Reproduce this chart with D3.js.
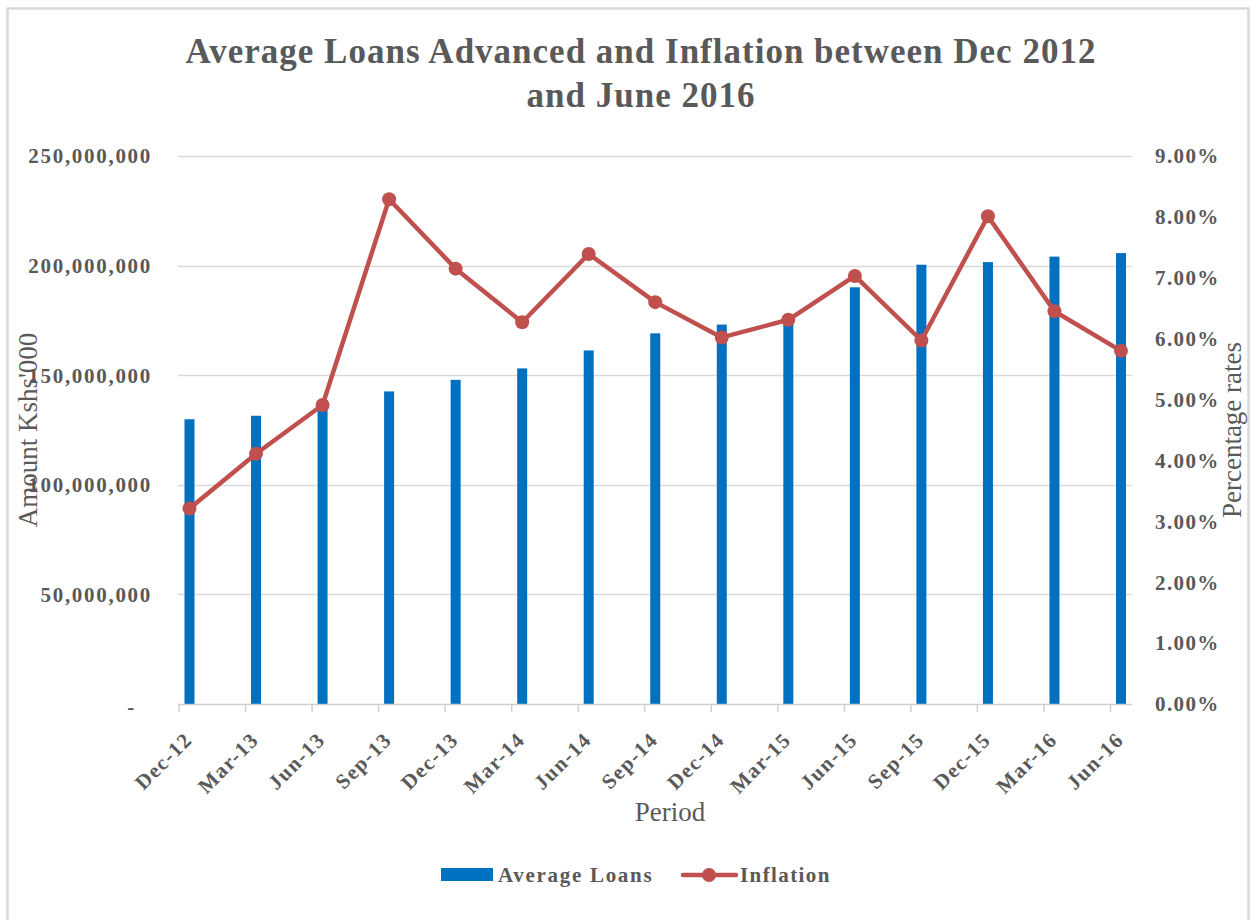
<!DOCTYPE html>
<html>
<head>
<meta charset="utf-8">
<script src="https://cdn.jsdelivr.net/npm/d3@7"></script>
<style>
  html, body { margin: 0; padding: 0; background: #fff; }
  svg { display: block; }
  text { font-family: "Liberation Serif", "Times New Roman", serif; fill: #595959; }
</style>
</head>
<body>
<svg id="chart" width="1251" height="920"></svg>
<script>
const periods = ["Dec-12","Mar-13","Jun-13","Sep-13","Dec-13","Mar-14","Jun-14","Sep-14","Dec-14","Mar-15","Jun-15","Sep-15","Dec-15","Mar-16","Jun-16"];
const averageLoans = [129900000,131500000,136500000,142600000,147900000,153100000,161300000,169100000,173100000,176000000,190100000,200400000,201600000,204100000,205700000];
const inflation = [0.0321,0.0411,0.0491,0.0829,0.0715,0.0627,0.0739,0.0660,0.0602,0.0631,0.0703,0.0597,0.0801,0.0645,0.0580];
const leftTicks = [0,50000000,100000000,150000000,200000000,250000000];
const rightTicks = [0,0.01,0.02,0.03,0.04,0.05,0.06,0.07,0.08,0.09];
const titleLines = ["Average Loans Advanced and Inflation between Dec 2012","and June 2016"];

const svg = d3.select("#chart");
const plot = {left: 178, right: 1132, top: 156, bottom: 704};

// outer border
svg.append("rect").attr("x", 7.5).attr("y", 8.5).attr("width", 1241).attr("height", 940)
  .attr("fill", "#fff").attr("stroke", "#D9D9D9").attr("stroke-width", 2.5);

const x = d3.scalePoint().domain(periods).range([189.5, 1121]);
const yL = d3.scaleLinear().domain([0, 250000000]).range([plot.bottom, plot.top]);
const yR = d3.scaleLinear().domain([0, 0.09]).range([plot.bottom, plot.top]);

// title
svg.append("g").selectAll("text").data(titleLines).join("text")
  .attr("x", 641).attr("y", (d, i) => 63 + i * 44)
  .attr("text-anchor", "middle")
  .style("font-size", "35px").style("font-weight", "bold").style("letter-spacing", "1px")
  .text(d => d);

// gridlines
svg.append("g").selectAll("line").data(leftTicks.filter(d => d > 0)).join("line")
  .attr("x1", plot.left).attr("x2", plot.right)
  .attr("y1", d => Math.round(yL(d)) + 0.5).attr("y2", d => Math.round(yL(d)) + 0.5)
  .attr("stroke", "#D9D9D9").attr("stroke-width", 1.5);

// left axis labels
const fmtL = d3.format(",");
svg.append("g").selectAll("text").data(leftTicks).join("text")
  .attr("x", d => d === 0 ? 136 : 152).attr("y", d => yL(d) + (d === 0 ? 3 : 0)).attr("dy", "0.35em")
  .attr("text-anchor", "end")
  .style("font-size", "21px").style("font-weight", "bold").style("letter-spacing", "1.7px")
  .text(d => d === 0 ? "-" : fmtL(d));

// right axis labels
const fmtR = d3.format(".2%");
svg.append("g").selectAll("text").data(rightTicks).join("text")
  .attr("x", 1155).attr("y", d => yR(d)).attr("dy", "0.35em")
  .attr("text-anchor", "start")
  .style("font-size", "21px").style("font-weight", "bold").style("letter-spacing", "1.4px")
  .text(d => fmtR(d));

// bars
svg.append("g").selectAll("rect").data(averageLoans).join("rect")
  .attr("x", (d, i) => x(periods[i]) - 5).attr("width", 10)
  .attr("y", d => yL(d)).attr("height", d => yL(0) - yL(d))
  .attr("fill", "#0070C0");

// x axis line and ticks
svg.append("line").attr("x1", plot.left).attr("x2", plot.right)
  .attr("y1", plot.bottom + 0.5).attr("y2", plot.bottom + 0.5)
  .attr("stroke", "#D0D0D0").attr("stroke-width", 1.5);
svg.append("g").selectAll("line").data(periods).join("line")
  .attr("x1", d => x(d) - 10.5).attr("x2", d => x(d) - 10.5)
  .attr("y1", plot.bottom).attr("y2", plot.bottom + 8)
  .attr("stroke", "#D0D0D0").attr("stroke-width", 1.5);

// x labels
svg.append("g").selectAll("text").data(periods).join("text")
  .attr("transform", d => `translate(${x(d) + 4},741) rotate(-45)`)
  .attr("text-anchor", "end")
  .style("font-size", "21px").style("font-weight", "bold").style("letter-spacing", "1.5px")
  .text(d => d);

// inflation line
const line = d3.line().x((d, i) => x(periods[i])).y(d => yR(d));
svg.append("path").datum(inflation).attr("d", line)
  .attr("fill", "none").attr("stroke", "#C0504D").attr("stroke-width", 4.5)
  .attr("stroke-linejoin", "round").attr("stroke-linecap", "round");
svg.append("g").selectAll("circle").data(inflation).join("circle")
  .attr("cx", (d, i) => x(periods[i])).attr("cy", d => yR(d)).attr("r", 7)
  .attr("fill", "#C0504D");

// axis titles
svg.append("text").attr("transform", "translate(37,430) rotate(-90)")
  .attr("text-anchor", "middle").style("font-size", "27px").text("Amount Kshs'000");
svg.append("text").attr("transform", "translate(1241,430) rotate(-90)")
  .attr("text-anchor", "middle").style("font-size", "27px").text("Percentage rates");
svg.append("text").attr("x", 670).attr("y", 821)
  .attr("text-anchor", "middle").style("font-size", "27px").text("Period");

// legend
const lg = svg.append("g");
lg.append("rect").attr("x", 441).attr("y", 868).attr("width", 52).attr("height", 13).attr("fill", "#0070C0");
lg.append("text").attr("x", 498).attr("y", 882)
  .style("font-size", "21px").style("font-weight", "bold").style("letter-spacing", "1.7px")
  .text("Average Loans");
lg.append("line").attr("x1", 683).attr("x2", 736).attr("y1", 875).attr("y2", 875)
  .attr("stroke", "#C0504D").attr("stroke-width", 4.5).attr("stroke-linecap", "round");
lg.append("circle").attr("cx", 709).attr("cy", 875).attr("r", 7).attr("fill", "#C0504D");
lg.append("text").attr("x", 740).attr("y", 882)
  .style("font-size", "21px").style("font-weight", "bold").style("letter-spacing", "1.4px")
  .text("Inflation");
</script>
</body>
</html>
